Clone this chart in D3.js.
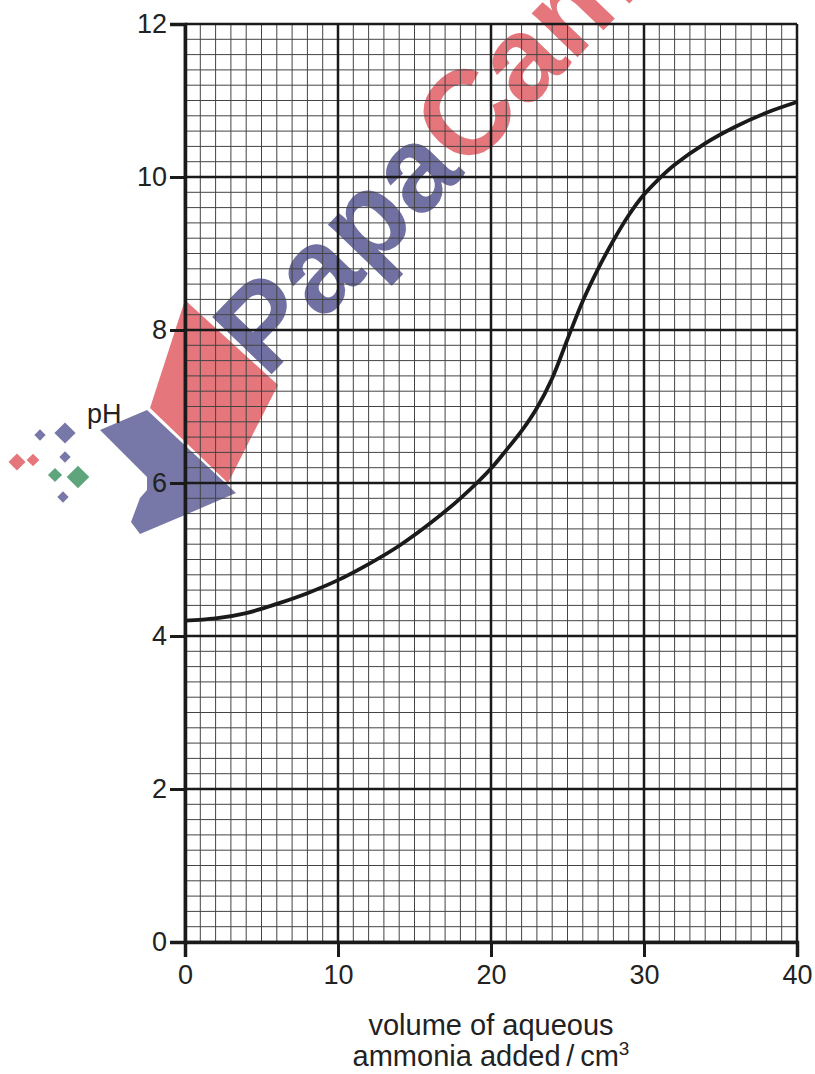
<!DOCTYPE html>
<html>
<head>
<meta charset="utf-8">
<script src="https://cdn.jsdelivr.net/npm/d3@7"></script>
<style>
  body { margin: 0; background: #fff; }
  text { font-family: "Liberation Sans", Arial, sans-serif; fill: #222; }
</style>
</head>
<body>
<div id="chart"></div>
<script>
// titration curve
var volume = [0, 2, 4, 6, 8, 10, 12, 14, 16, 18, 20, 21, 22, 23, 24, 25, 26, 27, 28, 29, 30, 31, 32, 34, 36, 38, 40];
var pH = [4.2, 4.23, 4.3, 4.42, 4.56, 4.73, 4.94, 5.18, 5.47, 5.8, 6.19, 6.43, 6.68, 6.98, 7.37, 7.88, 8.38, 8.8, 9.17, 9.5, 9.77, 9.98, 10.16, 10.44, 10.66, 10.84, 10.98];

var xTicks = [0, 10, 20, 30, 40];
var yTicks = [0, 2, 4, 6, 8, 10, 12];

var svgWidth = 815;
var svgHeight = 1074;
var margin = { top: 24, right: 18, bottom: 132, left: 185 };
var width = svgWidth - margin.left - margin.right;
var height = svgHeight - margin.top - margin.bottom;

var svg = d3.select("#chart").append("svg")
  .attr("width", svgWidth)
  .attr("height", svgHeight);

var x = d3.scaleLinear().domain([0, 40]).range([0, width]);
var y = d3.scaleLinear().domain([0, 12]).range([height, 0]);

// watermark (drawn first so the grid shows through it)
var wm = svg.append("g").attr("class", "watermark");
wm.append("polygon")
  .attr("points", "185,300 278,385 228,483 150,408")
  .attr("fill", "#e5767c");
wm.append("polygon")
  .attr("points", "100,430 147,410 236,493 185,515 140,534 131,522 140,498 147,490 147,477 117,447")
  .attr("fill", "#7878a8");
var dots = [
  [40, 435, 8, "#7878a8"], [65, 433, 15, "#7878a8"], [65, 457, 8, "#7878a8"],
  [17, 462, 12, "#e5767c"], [33, 460, 9, "#e5767c"],
  [55, 475, 10, "#5fa57c"], [78, 477, 16, "#5fa57c"], [63, 497, 8, "#7878a8"]
];
dots.forEach(function(d) {
  wm.append("rect")
    .attr("x", -d[2] / 2).attr("y", -d[2] / 2)
    .attr("width", d[2]).attr("height", d[2])
    .attr("fill", d[3])
    .attr("transform", `translate(${d[0]},${d[1]}) rotate(45)`);
});
var wmText = wm.append("text")
  .attr("transform", "translate(266,380) rotate(-46)")
  .style("font-size", "120px")
  .style("font-weight", "bold");
wmText.append("tspan").style("fill", "#7070a2").text("Papa");
wmText.append("tspan").style("fill", "#e5767c").text("Cam");

var chart = svg.append("g")
  .attr("transform", `translate(${margin.left}, ${margin.top})`);

// minor grid: 1 cm3 across, 0.2 pH up
chart.append("g")
  .selectAll("line")
  .data(d3.range(0, 41, 1))
  .enter().append("line")
  .attr("x1", d => x(d)).attr("x2", d => x(d))
  .attr("y1", 0).attr("y2", height)
  .attr("stroke", "#444").attr("stroke-width", 1);

chart.append("g")
  .selectAll("line")
  .data(d3.range(0, 61).map(d => d * 0.2))
  .enter().append("line")
  .attr("x1", 0).attr("x2", width)
  .attr("y1", d => y(d)).attr("y2", d => y(d))
  .attr("stroke", "#444").attr("stroke-width", 1);

// major grid
chart.append("g")
  .selectAll("line")
  .data(xTicks)
  .enter().append("line")
  .attr("x1", d => x(d)).attr("x2", d => x(d))
  .attr("y1", 0).attr("y2", height)
  .attr("stroke", "#1a1a1a").attr("stroke-width", 2.5);

chart.append("g")
  .selectAll("line")
  .data(yTicks)
  .enter().append("line")
  .attr("x1", 0).attr("x2", width)
  .attr("y1", d => y(d)).attr("y2", d => y(d))
  .attr("stroke", "#1a1a1a").attr("stroke-width", 2.5);

// axes
var bottomAxis = d3.axisBottom(x).tickValues(xTicks).tickSize(15).tickPadding(8);
var leftAxis = d3.axisLeft(y).tickValues(yTicks).tickSize(15).tickPadding(3);

var xAxisG = chart.append("g")
  .attr("transform", `translate(0, ${height})`)
  .call(bottomAxis);
var yAxisG = chart.append("g").call(leftAxis);

[xAxisG, yAxisG].forEach(function(g) {
  g.select(".domain").attr("stroke", "#1a1a1a").attr("stroke-width", 3.5);
  g.selectAll(".tick line").attr("stroke", "#1a1a1a").attr("stroke-width", 3);
  g.selectAll(".tick text")
    .attr("fill", "#222")
    .style("font-size", "27px")
    .style("font-family", "Liberation Sans, Arial, sans-serif");
});

// the curve
var points = volume.map((v, i) => ({ v: v, pH: pH[i] }));
var line = d3.line()
  .x(d => x(d.v))
  .y(d => y(d.pH))
  .curve(d3.curveCatmullRom.alpha(0.5));

chart.append("path")
  .datum(points)
  .attr("d", line)
  .attr("fill", "none")
  .attr("stroke", "#1a1a1a")
  .attr("stroke-width", 3.8);

// labels
svg.append("text")
  .attr("x", 87)
  .attr("y", 423)
  .style("font-size", "27px")
  .text("pH");

var xLabel = svg.append("text")
  .attr("text-anchor", "middle")
  .style("font-size", "29px");
xLabel.append("tspan")
  .attr("x", 491).attr("y", 1035)
  .text("volume of aqueous");
var line2 = xLabel.append("tspan")
  .attr("x", 491).attr("y", 1066)
  .text("ammonia added\u2009/\u2009cm");
line2.append("tspan")
  .attr("dy", -11)
  .style("font-size", "19px")
  .text("3");
</script>
</body>
</html>
